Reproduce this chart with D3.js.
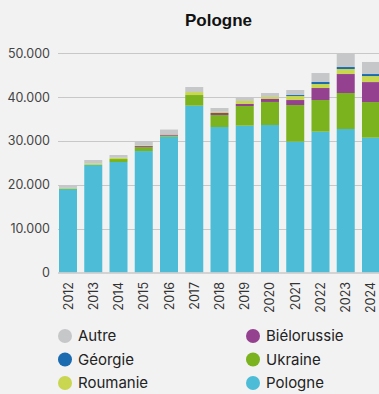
<!DOCTYPE html>
<html>
<head>
<meta charset="utf-8">
<script src="https://cdn.jsdelivr.net/npm/d3@7"></script>
<style>
  html, body { margin: 0; padding: 0; background: #f2f2f2; }
  svg { display: block; }
</style>
</head>
<body>
<svg id="chart" width="379" height="394"></svg>
<script>
// Years on the x axis
const years = ["2012","2013","2014","2015","2016","2017","2018","2019","2020","2021","2022","2023","2024"];

// Series values per year (stacked bottom to top)
const pologne     = [19050, 24520, 25200, 27700, 30980, 38050, 33190, 33490, 33650, 29840, 32120, 32730, 30750];
const ukraine     = [    0,     0,   680,   910,   230,  2430,  2740,  4490,  5250,  8360,  7220,  8210,  8130];
const bielorussie = [    0,     0,     0,   230,   230,     0,   460,   460,   680,  1140,  2740,  4330,  4560];
const roumanie    = [  250,   380,   300,   100,   100,   680,   300,   680,   460,   910,   910,  1140,  1370];
const georgie     = [    0,     0,     0,     0,     0,     0,     0,     0,     0,   230,   460,   460,   460];
const autre       = [  600,   760,   620,  1000,  1060,  1150,   830,   840,   900,  1150,  2050,  3030,  2750];

// Y axis ticks
const yTicks = [0, 10000, 20000, 30000, 40000, 50000];

const seriesNames  = ["Pologne", "Ukraine", "Biélorussie", "Roumanie", "Géorgie", "Autre"];
const seriesValues = [pologne, ukraine, bielorussie, roumanie, georgie, autre];
const colors = {
  "Pologne": "#4dbcd7",
  "Ukraine": "#7ab31d",
  "Biélorussie": "#944290",
  "Roumanie": "#c9d650",
  "Géorgie": "#1b6bb1",
  "Autre": "#c6c7c9"
};

const rows = years.map((y, i) => {
  const r = { year: y };
  seriesNames.forEach((n, k) => { r[n] = seriesValues[k][i]; });
  return r;
});

const svg = d3.select("#chart");

const x = d3.scaleBand()
  .domain(years)
  .range([58, 381])
  .paddingInner(0.287)
  .paddingOuter(0.04);

const y = d3.scaleLinear()
  .domain([0, 50000])
  .range([272.5, 53.3]);

// Title
svg.append("text")
  .attr("x", 218.5)
  .attr("y", 26)
  .attr("text-anchor", "middle")
  .style("font-family", "'Liberation Sans', Arial, sans-serif")
  .style("font-weight", "bold")
  .style("font-size", "17px")
  .style("fill", "#111")
  .text("Pologne");

// Horizontal grid
svg.append("g")
  .selectAll("line")
  .data(yTicks.filter(t => t > 0))
  .join("line")
  .attr("x1", 58)
  .attr("x2", 379)
  .attr("y1", d => Math.round(y(d)) + 0.5)
  .attr("y2", d => Math.round(y(d)) + 0.5)
  .attr("stroke", "#c8c8c8")
  .attr("stroke-width", 1.2);

// Y axis labels
const fmt = d3.formatLocale({ decimal: ",", thousands: ".", grouping: [3], currency: ["", "€"] }).format(",");
svg.append("g")
  .selectAll("text")
  .data(yTicks)
  .join("text")
  .attr("x", 50)
  .attr("y", d => y(d))
  .attr("dy", "0.36em")
  .attr("text-anchor", "end")
  .style("font-family", "Inter, 'DejaVu Sans', sans-serif")
  .style("font-size", "12.5px")
  .style("fill", "#444")
  .text(d => fmt(d));

// Stacked bars
const stack = d3.stack().keys(seriesNames);
const stacked = stack(rows);

svg.append("g")
  .selectAll("g")
  .data(stacked)
  .join("g")
  .attr("fill", d => colors[d.key])
  .selectAll("rect")
  .data(d => d)
  .join("rect")
  .attr("x", d => x(d.data.year))
  .attr("width", x.bandwidth())
  .attr("y", d => y(d[1]))
  .attr("height", d => Math.max(0, y(d[0]) - y(d[1])));

// Baseline
svg.append("line")
  .attr("x1", 58)
  .attr("x2", 379)
  .attr("y1", y(0) + 0.5)
  .attr("y2", y(0) + 0.5)
  .attr("stroke", "#c8c8c8")
  .attr("stroke-width", 1.5);

// X axis labels (rotated)
svg.append("g")
  .selectAll("text")
  .data(years)
  .join("text")
  .attr("transform", d => `translate(${x(d) + x.bandwidth() / 2 + 4.5},282) rotate(-90)`)
  .attr("text-anchor", "end")
  .style("font-family", "Inter, 'DejaVu Sans', sans-serif")
  .style("font-size", "12.5px")
  .style("fill", "#333")
  .text(d => d);

// Legend
const legendOrder = ["Autre", "Géorgie", "Roumanie", "Biélorussie", "Ukraine", "Pologne"];
const legend = svg.append("g")
  .selectAll("g")
  .data(legendOrder)
  .join("g")
  .attr("transform", (d, i) => `translate(${i < 3 ? 65 : 253},${336 + (i % 3) * 23.5})`);

legend.append("circle")
  .attr("r", 7)
  .attr("fill", d => colors[d]);

legend.append("text")
  .attr("x", 13)
  .attr("dy", "0.36em")
  .style("font-family", "Inter, 'DejaVu Sans', sans-serif")
  .style("font-size", "15px")
  .style("fill", "#222")
  .text(d => d);
</script>
</body>
</html>
